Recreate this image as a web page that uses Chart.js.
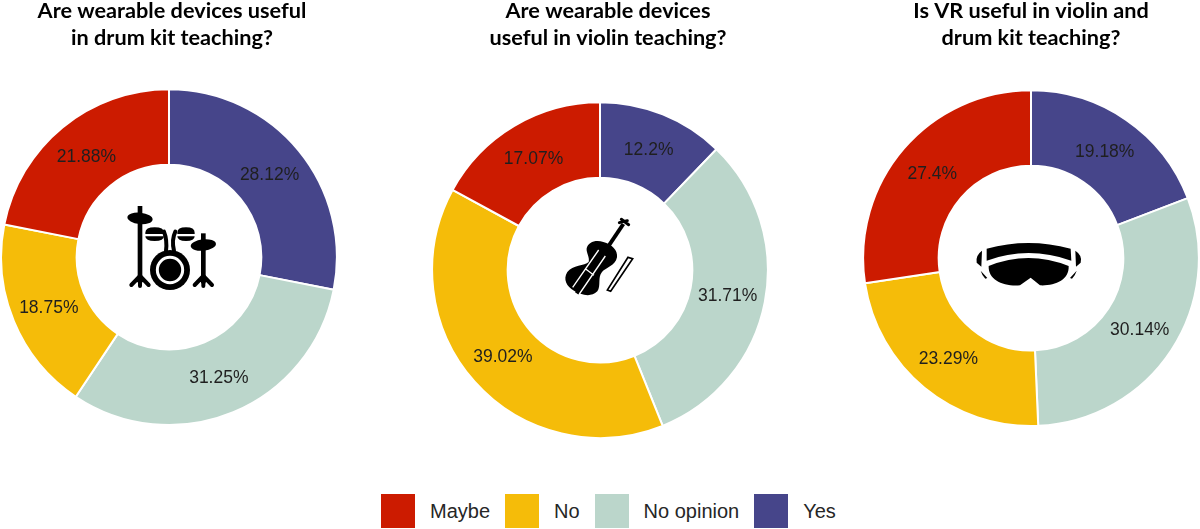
<!DOCTYPE html>
<html>
<head>
<meta charset="utf-8">
<title>Wearable devices and VR in music teaching</title>
<script src="https://cdn.jsdelivr.net/npm/chart.js@4"></script>
<style>
  body { margin: 0; background: #fff; width: 1200px; height: 529px; overflow: hidden; position: relative; }
  canvas { position: absolute; }
  svg { position: absolute; }
  #legend { position: absolute; left: 381px; top: 494px; height: 34px; display: flex; align-items: center;
    font-family: "Liberation Sans", sans-serif; font-size: 20px; color: #262626; }
  #legend span.box { width: 34px; height: 34px; display: block; margin-right: 15px; }
  #legend span.txt { display: block; margin-right: 15px; }
</style>
</head>
<body>
<canvas id="chart1"></canvas>
<canvas id="chart2"></canvas>
<canvas id="chart3"></canvas>

<!-- drum kit icon -->
<svg style="left:100px;top:190px" width="140" height="110" viewBox="0 0 420 330">
  <g fill="#000" stroke="none">
    <rect x="113" y="48" width="14" height="230"/>
    <ellipse cx="120" cy="85" rx="38" ry="17" transform="rotate(6 120 85)"/>
    <rect x="303" y="130" width="14" height="150"/>
    <ellipse cx="310" cy="165" rx="38" ry="17" transform="rotate(-6 310 165)"/>
    <path d="M136 128 q0 -16 28 -16 q28 0 28 16 l0 4 l-56 0z"/>
    <path d="M136 139 l56 0 q0 14 -28 14 q-28 0 -28 -14z"/>
    <path d="M232 128 q0 -16 26 -16 q26 0 26 16 l0 4 l-52 0z"/>
    <path d="M232 139 l52 0 q0 14 -26 14 q-26 0 -26 -14z"/>
    <circle cx="210" cy="240" r="60"/>
  </g>
  <circle cx="210" cy="240" r="38" fill="none" stroke="#fff" stroke-width="9"/>
  <g fill="none" stroke="#000" stroke-width="12" stroke-linecap="round">
    <path d="M120 258 L94 285 M120 258 L120 288 M120 258 L146 285"/>
    <path d="M310 258 L284 285 M310 258 L310 288 M310 258 L336 285"/>
    <path d="M192 125 Q202 150 198 182 M226 125 Q214 150 222 182"/>
  </g>
</svg>

<!-- violin icon -->
<svg style="left:540px;top:200px" width="120" height="110" viewBox="0 0 360 330">
  <path fill="#000" d="M190 126 C168 118 144 126 140 145 C138 158 150 172 146 186 C134 198 98 194 82 216 C68 238 80 260 102 272 C122 284 152 294 172 274 C184 258 172 232 186 216 C198 202 226 198 231 172 C234 150 216 134 190 126Z"/>
  <path fill="none" stroke="#000" stroke-width="12" d="M110 280 L250 72"/>
  <path fill="none" stroke="#000" stroke-width="9" stroke-linecap="round" d="M238 68 L262 62 M244 58 L266 74"/>
  <path fill="none" stroke="#fff" stroke-width="4" d="M98 262 L176 150 M118 282 L196 168 M138 208 L162 226"/>
  <path fill="none" stroke="#000" stroke-width="5" d="M264 172 L278 176 L212 274 L202 270Z"/>
</svg>

<!-- VR headset icon -->
<svg style="left:960px;top:230px" width="140" height="70" viewBox="0 0 420 210">
  <path fill="#000" d="M80 56 Q205 22 332 56 L334 92 Q205 46 80 92Z"/>
  <path fill="#000" d="M86 108 Q205 60 326 108 C328 150 285 168 240 166 L212 143 L180 166 C130 170 84 150 86 108Z"/>
  <path fill="#000" d="M66 62 L64 110 L50 98 Q46 76 66 62Z M346 62 Q368 76 362 98 L348 110Z"/>
  <path fill="#000" d="M62 122 L82 144 L76 146 Q66 136 62 122Z M350 122 Q346 136 336 146 L330 144Z"/>
</svg>

<div id="legend"></div>

<script>
// Categories, in the clockwise order the slices are drawn
const categories = ['Yes', 'No opinion', 'No', 'Maybe'];

// Values of each doughnut
const drumValues = [28.12, 31.25, 18.75, 21.88];
const violinValues = [12.2, 31.71, 39.02, 17.07];
const vrValues = [19.18, 30.14, 23.29, 27.4];

// Titles
const drumTitle = ['Are wearable devices useful', 'in drum kit teaching?'];
const violinTitle = ['Are wearable devices', 'useful in violin teaching?'];
const vrTitle = ['Is VR useful in violin and', 'drum kit teaching?'];

// Colours of the slices, same order as categories
const colores = ['#46458A', '#BBD6CB', '#F5BC09', '#CC1B00'];

// Legend goes in another order
const legendOrder = ['Maybe', 'No', 'No opinion', 'Yes'];

// Plugin that writes the percentage on each slice
const etiquetas = {
  id: 'etiquetas',
  afterDatasetsDraw(chart) {
    const ctx = chart.ctx;
    const valores = chart.data.datasets[0].data;
    ctx.save();
    ctx.font = '17.5px "Liberation Sans", sans-serif';
    ctx.fillStyle = '#1f1f1f';
    ctx.textAlign = 'center';
    ctx.textBaseline = 'middle';
    chart.getDatasetMeta(0).data.forEach((arco, i) => {
      const p = arco.getCenterPoint();
      ctx.fillText(valores[i] + '%', p.x, p.y + 1);
    });
    ctx.restore();
  }
};

// Creates one doughnut on its canvas
function crearDona(id, valores, titulo, left, height, titlePad, titleShift) {
  const width = 338;
  const canvas = document.getElementById(id);
  canvas.style.left = left + 'px';
  canvas.style.top = '0px';
  canvas.width = width;
  canvas.height = height;
  canvas.style.width = width + 'px';
  canvas.style.height = height + 'px';

  return new Chart(canvas, {
    type: 'doughnut',
    data: {
      labels: categories,
      datasets: [{
        data: valores,
        backgroundColor: colores,
        borderColor: '#fff',
        borderWidth: 2
      }]
    },
    options: {
      responsive: false,
      animation: false,
      cutout: '55%',
      layout: { padding: 0 },
      plugins: {
        legend: { display: false },
        tooltip: { enabled: false },
        title: {
          display: true,
          text: titulo,
          color: '#000',
          font: { family: 'Lato, sans-serif', size: 21.7, weight: 'bold', lineHeight: 1.25 },
          padding: { top: 0, bottom: titlePad }
        }
      }
    },
    plugins: [etiquetas, {
      // the titles are not quite centred over the rings and sit near the top edge
      id: 'moverTitulo',
      afterLayout(chart) {
        chart.titleBlock.left += titleShift;
        chart.titleBlock.right += titleShift;
        chart.titleBlock.top -= 3;
        chart.titleBlock.bottom -= 3;
      }
    }]
  });
}

crearDona('chart1', drumValues, drumTitle, 0, 426, 34, 3);
crearDona('chart2', violinValues, violinTitle, 431, 439, 47, 8);
crearDona('chart3', vrValues, vrTitle, 862, 427, 35, 0);

// HTML legend
const legend = document.getElementById('legend');
legendOrder.forEach(nombre => {
  const box = document.createElement('span');
  box.className = 'box';
  box.style.background = colores[categories.indexOf(nombre)];
  const txt = document.createElement('span');
  txt.className = 'txt';
  txt.textContent = nombre;
  legend.appendChild(box);
  legend.appendChild(txt);
});
</script>
</body>
</html>
